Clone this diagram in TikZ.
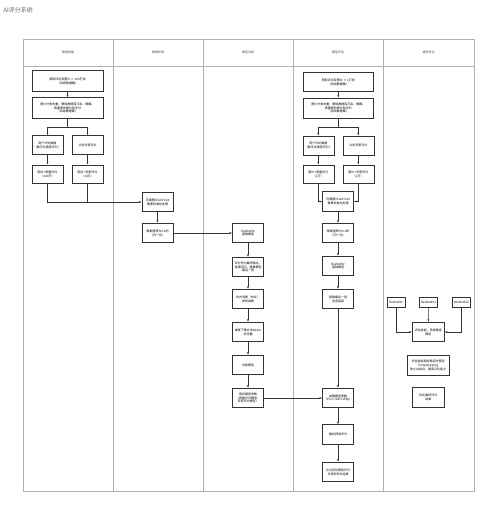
\documentclass[tikz,border=0pt]{standalone}
\usepackage{fontspec}
\newfontfamily\cjk{Noto Sans CJK SC}
\usepackage{tikz}
\usetikzlibrary{arrows.meta}
\newcommand{\flowfont}{\cjk\fontsize{3}{3.8}\selectfont}

\begin{document}
\begin{tikzpicture}[x=1pt,y=-1pt,
	box/.style={draw=black!80,line width=0.6pt,fill=white,minimum width=31pt,minimum height=19.5pt,inner sep=0.5pt,align=center,font=\flowfont},
	widebox/.style={box,minimum width=71pt,minimum height=20.5pt},
	smallbox/.style={box,minimum width=18.3pt,minimum height=10pt},
	lane/.style={draw=gray!60,line width=0.8pt},
	head/.style={font=\flowfont,text=black!70},
	arrow/.style={draw=black!80,line width=0.5pt,-{Latex[length=2.6pt,width=2pt]}},
	line/.style={draw=black!80,line width=0.5pt}]
\useasboundingbox (0,0) rectangle (500,515);

% titel en swimlanes
\node[anchor=west,font=\cjk\fontsize{6}{7}\selectfont,text=gray!80!black] (title) at (0,10) {AI评分系统};
\draw[lane] (23,39) rectangle (474,491);
\draw[lane] (23,66.5) -- (474,66.5);
\foreach \x in {113,203.3,293.3,383.3}
	\draw[lane] (\x,39) -- (\x,491);
\node[head] (h1) at (68,52.7) {数据收集};
\node[head] (h2) at (158,52.7) {数据处理};
\node[head] (h3) at (248,52.7) {模型训练};
\node[head] (h4) at (338,52.7) {模型评估};
\node[head] (h5) at (428.5,52.7) {模型优化};

% data verzamelen
\node[widebox] (crawltrain) at (67.5,81) {爬取评论及图片 × 100万张\\（训练数据集）};
\node[widebox] (cleantrain) at (67.5,108) {图片分类去重，删除数据库冗余、模糊、\\质量差的图片和评分\\（训练数据集）};
\node[box,minimum height=18.6pt] (usertrain) at (47.5,145) {用户评论数据\\（数字化情感评分）};
\node[box,minimum height=18.6pt] (experttrain) at (87.5,145) {众包专家评分};
\node[box,minimum height=18.3pt] (qualitytrain) at (47.5,174) {图片+质量评分\\（100万）};
\node[box,minimum height=18.3pt] (scoretrain) at (87.5,174) {图片+专家评分\\（10万）};

% data verwerken
\node[box] (resize) at (157.5,202) {压缩图片224*224\\像素标准化处理};
\node[box] (norm) at (157.5,233) {像素值转为0-1的\\（归一化）};

% model trainen
\node[box] (resnet) at (248,233) {ResNet50\\基础模型};
\node[box] (lastlayer) at (248,267) {评分作为最终输出，\\选择回归，替换模型\\最后一层};
\node[box] (loss) at (248,299) {均方误差（MSE）\\损失函数};
\node[box] (optim) at (248,332) {梯度下降方法Adam\\优化器};
\node[box] (train) at (248,365) {训练模型};
\node[box] (save) at (248,398) {保存模型参数\\（质量评分模型，\\专家评分模型）};

% model evalueren
\node[widebox,minimum width=70pt,minimum height=19.4pt] (crawltest) at (338.3,82) {爬取评论及图片 × 1万张\\（测试数据集）};
\node[widebox,minimum width=70pt,minimum height=20pt] (cleantest) at (338.3,108) {图片分类去重，删除数据库冗余、模糊、\\质量差的图片和评分\\（测试数据集）};
\node[box,minimum height=19pt] (usertest) at (318.3,145.5) {用户评论数据\\（数字化情感评分）};
\node[box,minimum height=19pt] (experttest) at (358.3,145.5) {众包专家评分};
\node[box,minimum height=18.3pt] (qualitytest) at (318.3,174) {图片+质量评分\\（1万）};
\node[box,minimum height=18.3pt] (scoretest) at (358.3,174) {图片+专家评分\\（1万）};
\node[box] (resizetest) at (338,201.5) {压缩图片224*224\\像素标准化处理};
\node[box] (normtest) at (338,233) {像素值转为0-1的\\（归一化）};
\node[box] (resnettest) at (338,266) {ResNet50\\基础模型};
\node[box] (droplayer) at (338,299) {替换最后一层\\全连接层};
\node[box] (load) at (338,398) {加载模型参数\\（PLCC/SRCC评估）};
\node[box] (predict) at (338,434.5) {输出预测评分};
\node[box] (compare) at (338,472) {比对实际模型评分\\与预测评分结果};

% model optimaliseren
\node[smallbox] (res50) at (396,302.7) {ResNet50};
\node[smallbox] (res101) at (428.5,302.7) {ResNet101};
\node[smallbox] (res152) at (461.5,302.7) {ResNet152};
\node[box,minimum width=32pt] (select) at (428.3,332) {评估性能，选择最佳\\模型};
\node[box,minimum width=41.7pt] (early) at (428.2,365.3) {评估指标相对稳定时使用\\EarlyStopping\\防止过拟合，提高泛化能力};
\node[box,minimum width=32pt] (final) at (428.3,397.5) {优化最终评分\\结果};

% verbindingen
\draw[arrow] (crawltrain) -- (cleantrain);
\draw[arrow] (cleantrain.south) -- ++(0,8.5) -| (usertrain.north);
\draw[arrow] (cleantrain.south) -- ++(0,8.5) -| (experttrain.north);
\draw[arrow] (usertrain) -- (qualitytrain);
\draw[arrow] (experttrain) -- (scoretrain);
\draw[arrow] (qualitytrain.south) |- (resize.west);
\draw[line] (scoretrain.south) -- (scoretrain.south |- resize.west);
\draw[arrow] (resize) -- (norm);
\draw[arrow] (norm) -- (resnet);
\draw[arrow] (resnet) -- (lastlayer);
\draw[arrow] (lastlayer) -- (loss);
\draw[arrow] (loss) -- (optim);
\draw[arrow] (optim) -- (train);
\draw[arrow] (train) -- (save);
\draw[arrow] (save) -- (load);
\draw[arrow] (crawltest) -- (cleantest);
\draw[arrow] (cleantest.south) -- ++(0,8.7) -| (usertest.north);
\draw[arrow] (cleantest.south) -- ++(0,8.7) -| (experttest.north);
\draw[arrow] (usertest) -- (qualitytest);
\draw[arrow] (experttest) -- (scoretest);
\draw[arrow] (qualitytest.south) |- (resizetest.west);
\draw[arrow] (scoretest.south) |- (resizetest.east);
\draw[arrow] (resizetest) -- (normtest);
\draw[arrow] (normtest) -- (resnettest);
\draw[arrow] (resnettest) -- (droplayer);
\draw[arrow] (droplayer) -- (load);
\draw[arrow] (load) -- (predict);
\draw[arrow] (predict) -- (compare);
\draw[arrow] (res50.south) |- (select.west);
\draw[arrow] (res101) -- (select);
\draw[arrow] (res152.south) |- (select.east);
\end{tikzpicture}
\end{document}
